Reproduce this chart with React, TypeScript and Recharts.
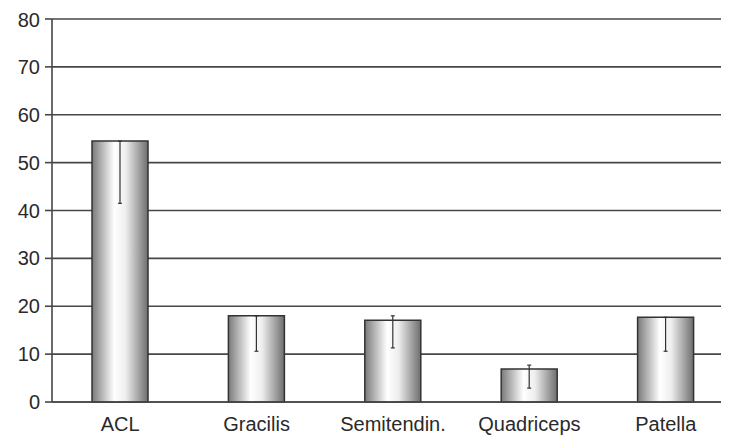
import { Bar, BarChart, CartesianGrid, ErrorBar, XAxis, YAxis } from "recharts";

const categories = ["ACL", "Gracilis", "Semitendin.", "Quadriceps", "Patella"];
const means = [54.5, 18, 17.1, 6.9, 17.7];
// [below, above] extent of each error bar
const errors: [number, number][] = [
  [13, 0],
  [7.4, 0],
  [5.8, 0.9],
  [4, 0.8],
  [7.1, 0],
];
const yTicks = [0, 10, 20, 30, 40, 50, 60, 70, 80];

const data = categories.map((name, i) => ({ name, value: means[i], err: errors[i] }));

const font = "'Liberation Sans', Arial, sans-serif";

export default function App() {
  return (
    <div style={{ width: 721, height: 431, overflow: "hidden" }}>
      <BarChart
        width={730}
        height={431}
        data={data}
        margin={{ top: 11, right: 4, bottom: 0, left: 0 }}
        barCategoryGap={40}
      >
        <defs>
          <linearGradient id="barShade" x1="0" y1="0" x2="1" y2="0">
            <stop offset="0%" stopColor="#7a7a7a" />
            <stop offset="40%" stopColor="#ffffff" />
            <stop offset="60%" stopColor="#eeeeee" />
            <stop offset="100%" stopColor="#6e6e6e" />
          </linearGradient>
        </defs>
        <CartesianGrid stroke="#474747" strokeWidth={1.6} vertical={false} />
        <XAxis
          dataKey="name"
          height={37}
          axisLine={{ stroke: "#474747", strokeWidth: 1.6 }}
          tickLine={false}
          tick={{ fontSize: 20, fill: "#2a2a2a", fontFamily: font }}
          tickMargin={9}
          interval={0}
        />
        <YAxis
          domain={[0, 80]}
          ticks={yTicks}
          width={44}
          axisLine={{ stroke: "#474747", strokeWidth: 1.6 }}
          tickLine={{ stroke: "#474747", strokeWidth: 1.6 }}
          tickSize={7}
          tickMargin={5}
          tick={{ fontSize: 20, fill: "#2a2a2a", fontFamily: font }}
        />
        <Bar
          dataKey="value"
          barSize={56}
          fill="url(#barShade)"
          stroke="#333"
          strokeWidth={1.5}
          isAnimationActive={false}
        >
          <ErrorBar dataKey="err" width={2} stroke="#333" strokeWidth={1.2} />
        </Bar>
      </BarChart>
    </div>
  );
}
